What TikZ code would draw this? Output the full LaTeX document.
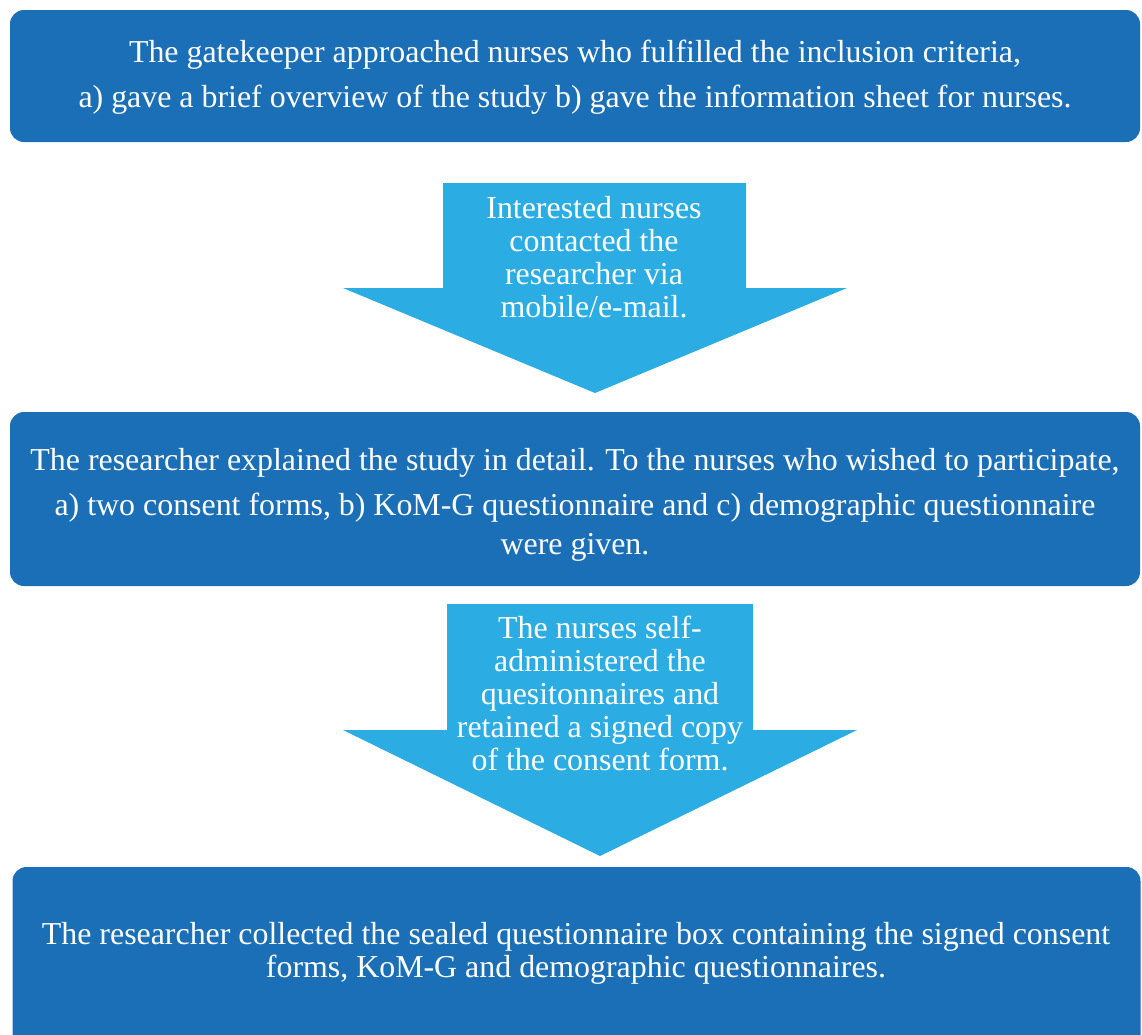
\documentclass[tikz,border=0pt]{standalone}
\usepackage{fontspec}
\setmainfont{Liberation Serif}
\usetikzlibrary{positioning,calc}
\definecolor{boxblue}{HTML}{1B6FB7}
\definecolor{arrowblue}{HTML}{2BADE4}

\begin{document}
\begin{tikzpicture}[x=1pt,y=-1pt,
    stepbox/.style={fill=boxblue, rounded corners=14pt, minimum width=1130pt, inner sep=0pt},
    steptext/.style={text=white, align=center, font=\fontsize{31.9}{33}\selectfont, inner sep=0pt}]
    \useasboundingbox (0,0) rectangle (1142,1034);

    % Boxes
    \node[stepbox, minimum height=132pt] (box1) at (575,76) {};
    \node[stepbox, minimum height=174pt] (box2) at (575,499) {};
    \node[stepbox, minimum height=185pt, minimum width=1128pt] (box3) at (576.5,959.5) {};

    % Arrows
    \fill[arrowblue] (443,183) -- (746,183) -- (746,288) -- (847,288) -- (595,393)
        -- (343,288) -- (443,288) -- cycle;
    \fill[arrowblue] (447,604) -- (753,604) -- (753,730) -- (857,730) -- (600,856)
        -- (343,730) -- (447,730) -- cycle;

    % Texts
    \node[steptext] (t1) at (575,77) {The gatekeeper approached nurses who fulfilled the inclusion criteria,\\[12pt]
        a) gave a brief overview of the study b) gave the information sheet for nurses.};
    \node[steptext] (a1) at (594,257) {Interested nurses\\contacted the\\researcher via\\mobile/e-mail.};
    \node[steptext] (t2) at (575,505) {The researcher explained the study in detail. To the nurses who wished to participate,\\[12pt]
        a) two consent forms, b) KoM-G questionnaire and c) demographic questionnaire\\[6pt]were given.};
    \node[steptext] (a2) at (600,693) {The nurses self-\\administered the\\quesitonnaires and\\retained a signed copy\\of the consent form.};
    \node[steptext] (t3) at (576,953) {The researcher collected the sealed questionnaire box containing the signed consent\\forms, KoM-G and demographic questionnaires.};
\end{tikzpicture}
\end{document}
